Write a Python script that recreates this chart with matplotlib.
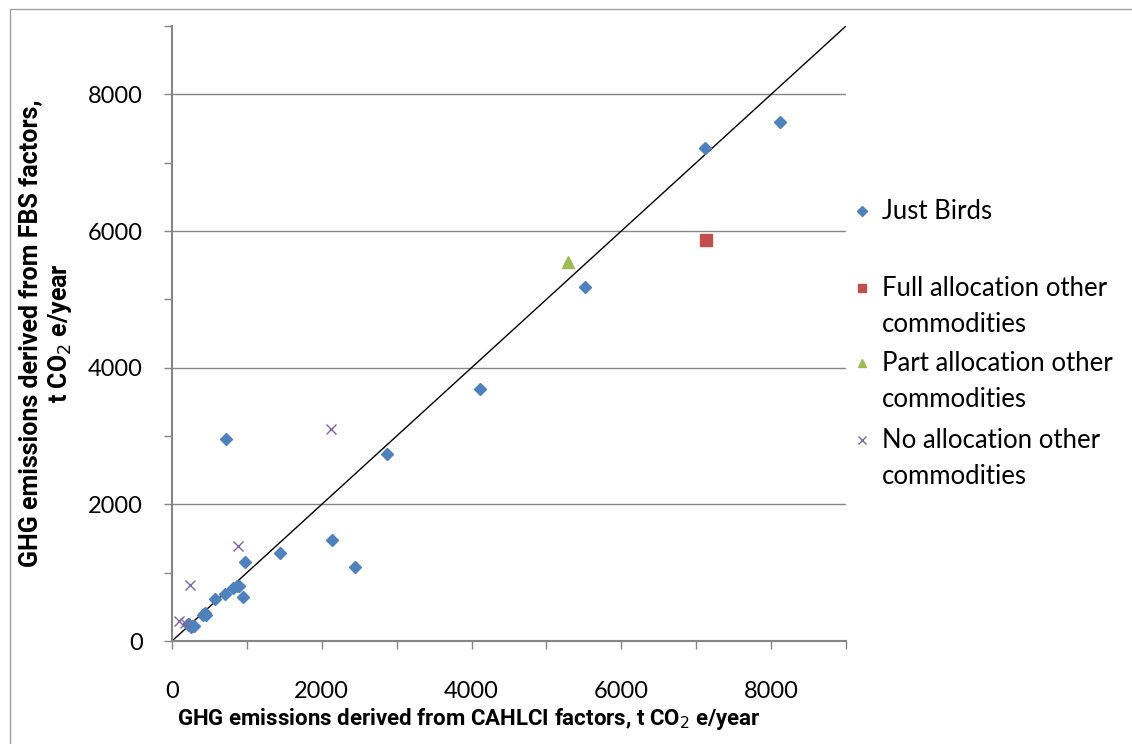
import matplotlib.pyplot as plt
import matplotlib.patches as mpatches
from matplotlib.ticker import MultipleLocator

plt.rcParams['font.family'] = ['Lato', 'DejaVu Sans']

# Just Birds (CAHLCI, FBS)
birds_x = [7120, 8120, 5520, 4107, 2876, 724, 2142, 2440, 1444, 978, 951, 893, 862, 809,
           707, 573, 427, 445, 460, 410, 249, 270, 230, 290, 210]
birds_y = [7211, 7591, 5176, 3682, 2730, 2950, 1471, 1081, 1281, 1154, 637, 812, 800, 779,
           695, 612, 398, 410, 385, 375, 212, 225, 240, 215, 250]
full_x = [7133]
full_y = [5864]
part_x = [5293]
part_y = [5542]
none_x = [2129, 880, 240, 93, 173]
none_y = [3097, 1384, 822, 300, 261]

series = [
    ('Just Birds', birds_x, birds_y, 'D', '#4F81BD', 6),
    ('Full allocation other\ncommodities', full_x, full_y, 's', '#C0504D', 8),
    ('Part allocation other\ncommodities', part_x, part_y, '^', '#9BBB59', 8),
    ('No allocation other\ncommodities', none_x, none_y, 'x', '#8064A2', 7),
]

label_font = ['Roboto', 'DejaVu Sans']

fig = plt.figure(figsize=(11.32, 7.44), dpi=100)
ax = fig.add_axes([172 / 1132, 1 - 641 / 744, (846 - 172) / 1132, (641 - 26) / 744])

ax.set_xlim(0, 9000)
ax.set_ylim(0, 9000)
ax.plot([0, 9000], [0, 9000], color='black', lw=1, zorder=2)

for label, xs, ys, m, c, ms in series:
    if m == 'x':
        ax.plot(xs, ys, ls='none', marker=m, color=c, ms=ms, mew=1, zorder=3, clip_on=False)
    else:
        ax.plot(xs, ys, ls='none', marker=m, color=c, ms=ms, mec=c, zorder=3, clip_on=False)

ax.xaxis.set_minor_locator(MultipleLocator(1000))
ax.yaxis.set_minor_locator(MultipleLocator(1000))
ax.set_xticks([0, 2000, 4000, 6000, 8000])
ax.set_yticks([0, 2000, 4000, 6000, 8000])
ax.grid(axis='y', which='major', color='#868686', lw=1)
ax.set_axisbelow(True)
for s in ['top', 'right']:
    ax.spines[s].set_visible(False)
for s in ['left', 'bottom']:
    ax.spines[s].set_color('#868686')
    ax.spines[s].set_linewidth(1.5)
ax.tick_params(axis='both', which='both', direction='out', color='#868686', length=6, width=1,
               labelsize=17)
ax.tick_params(axis='y', which='major', pad=15)
ax.tick_params(axis='x', which='major', pad=23)

ax.set_xlabel('GHG emissions derived from CAHLCI factors, t CO$_2$ e/year',
              fontsize=16, fontweight='bold', family=label_font)
ax.xaxis.set_label_coords(0.44, -0.105)
ax.set_ylabel('GHG emissions derived from FBS factors,\nt CO$_2$ e/year',
              fontsize=18, fontweight='bold', family=label_font, linespacing=1.2)
ax.yaxis.set_label_coords(-0.145, 0.5)

# legend, marker next to the first line of each entry
leg_y = [211, 288, 363, 440]
for (label, xs, ys, m, c, ms), yp in zip(series, leg_y):
    yf = 1 - yp / 744
    fig.add_artist(plt.Line2D([862 / 1132], [yf], ls='none', marker=m, color=c,
                              ms=ms * 0.8, mec=c, mew=1, transform=fig.transFigure))
    fig.text(882 / 1132, yf + 12 / 744, label, fontsize=18.5, va='top', ha='left',
             linespacing=1.55)

fig.add_artist(mpatches.Rectangle((10 / 1132, -0.01), 1.2, 1 - 9 / 744 + 0.01,
                                  transform=fig.transFigure, fill=False,
                                  edgecolor='#A0A0A0', lw=1))

fig.savefig('out.png', dpi=100)
